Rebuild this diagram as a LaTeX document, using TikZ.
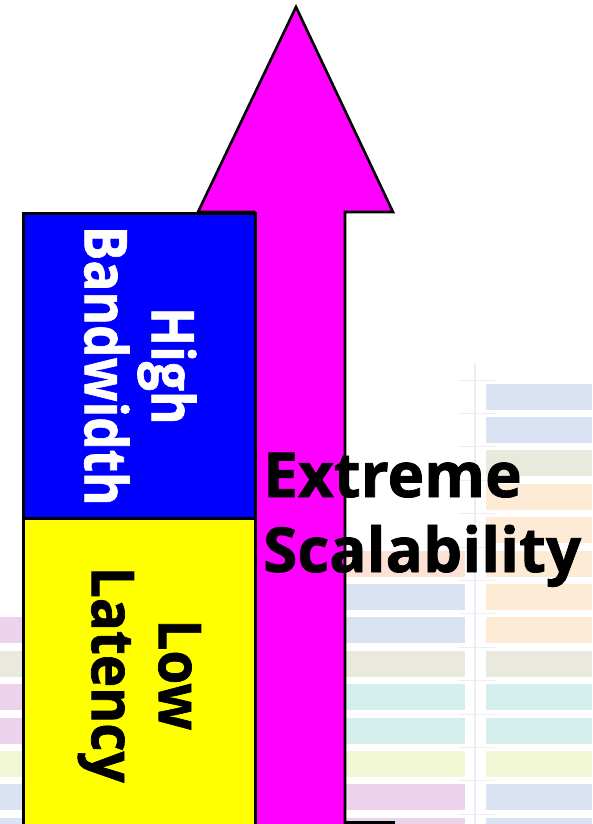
\documentclass[tikz,border=0pt]{standalone}
\usepackage{graphicx}
\usepackage{fontspec}
\setmainfont{Open Sans}[BoldFeatures={FakeBold=1.2}]
\definecolor{arrowmag}{RGB}{255,0,255}
\definecolor{bwblue}{RGB}{0,0,255}
\definecolor{latyellow}{RGB}{255,255,0}
\definecolor{barblue}{RGB}{218,227,243}
\definecolor{barbeige}{RGB}{233,233,222}
\definecolor{barpeach}{RGB}{253,235,213}
\definecolor{barsalmon}{RGB}{251,226,213}
\definecolor{barteal}{RGB}{213,240,236}
\definecolor{barlime}{RGB}{241,246,213}
\definecolor{barpink}{RGB}{237,210,236}
\definecolor{gridline}{RGB}{236,236,244}
\newcommand{\narrowA}[1]{\scalebox{0.87}[1]{#1}}
\newcommand{\narrowB}[1]{\scalebox{0.93}[1]{#1}}
\tikzset{
  outline/.style={draw=black, line width=2.6pt},
  boxnode/.style={outline, anchor=north west, inner sep=0pt, minimum width=232pt},
  sidetext/.style={rotate=-90, align=center, inner sep=0pt,
    font=\bfseries\fontsize{59}{67}\selectfont},
  bigtext/.style={anchor=base west, inner sep=0pt,
    font=\bfseries\fontsize{62}{75}\selectfont},
}
\begin{document}
\begin{tikzpicture}[x=1pt, y=-1pt]
  \useasboundingbox (0,0) rectangle (592,824);
  \fill[white] (0,0) rectangle (592,824);

  % faded chart in the background
  \draw[gridline, line width=2pt] (475,363) -- (475,824);
  \foreach \k/\c in {0/barblue,1/barblue,2/barbeige,3/barpeach,4/barpeach,
      5/barpeach,6/barpeach,7/barpeach,8/barbeige,9/barteal,10/barteal,
      11/barlime,12/barblue,13/barblue}
    \fill[\c] (486,{383.5+33.4*\k}) rectangle (592,{409.5+33.4*\k});
  \foreach \k/\c in {5/barsalmon,6/barblue,7/barblue,8/barbeige,9/barteal,
      10/barteal,11/barlime,12/barpink,13/barpink}
    \fill[\c] (345,{383.5+33.4*\k}) rectangle (465,{409.5+33.4*\k});
  \foreach \k/\c in {7/barpink,8/barbeige,9/barpink,10/barpink,11/barlime,
      12/barblue,13/barblue}
    \fill[\c] (0,{383.5+33.4*\k}) rectangle (22,{409.5+33.4*\k});
  \foreach \k in {0,...,13}
    \draw[gridline, line width=1pt] (458,{380+33.4*\k}) -- (495,{380+33.4*\k});

  % the upward arrow
  \draw[outline, fill=arrowmag, line join=miter]
    (254,828) -- (254,212) -- (198,212) -- (296,7) -- (393,212)
    -- (345,212) -- (345,828);
  \draw[black, line width=2.6pt] (345,822.5) -- (395,822.5);

  % the two stacked boxes
  \node[boxnode, fill=bwblue, minimum height=305pt] (bw) at (22,212) {};
  \node[boxnode, fill=latyellow, minimum height=313pt] (lat) at (22,517) {};

  \node[sidetext, text=white] (bwtext) at ([xshift=1pt]bw.center)
    {\narrowA{High}\\\narrowA{Bandwidth}};
  \node[sidetext, text=black] (lattext) at (lat.center)
    {\narrowB{Low}\\\narrowB{Latency}};

  \node[bigtext] (ext) at (263,497) {Extreme};
  \node[bigtext] (scal) at (263,572) {Scalability};
\end{tikzpicture}
\end{document}
